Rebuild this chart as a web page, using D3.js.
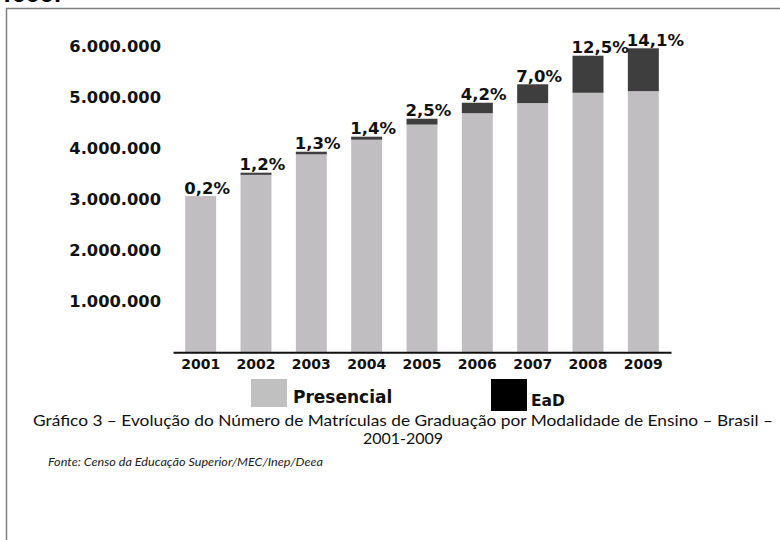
<!DOCTYPE html>
<html lang="pt-BR">
<head>
<meta charset="utf-8">
<script src="https://cdn.jsdelivr.net/npm/d3@7"></script>
<style>
  html, body { margin: 0; padding: 0; background: #ffffff; }
  svg { display: block; }
</style>
</head>
<body>
<svg id="chart" width="780" height="540"></svg>
<script>
// Matrículas de graduação por ano (total) e participação da EaD (%)
const years = ["2001", "2002", "2003", "2004", "2005", "2006", "2007", "2008", "2009"];
const totalEnrollments = [3047000, 3517000, 3928000, 4222000, 4574000, 4887000, 5248000, 5808000, 5953000];
const eadSharePct = [0.2, 1.2, 1.3, 1.4, 2.5, 4.2, 7.0, 12.5, 14.1];
const yTickValues = [1000000, 2000000, 3000000, 4000000, 5000000, 6000000];
const seriesNames = ["Presencial", "EaD"];

const COLORS = { presencial: "#c1bec2", ead: "#3e3e3e", legendPresencial: "#c0c0c0", legendEad: "#000000" };
const BOLD = "'DejaVu Sans', Verdana, sans-serif";
const CAPTION = "Lato, 'Open Sans', sans-serif";

// Split each year's total into presencial and EaD parts from the stated share
const rows = years.map((yr, i) => {
  const total = totalEnrollments[i];
  const ead = total * eadSharePct[i] / 100;
  return { year: yr, total, ead, presencial: total - ead, pct: eadSharePct[i] };
});

const svg = d3.select("#chart");

// Frame around the figure
svg.append("rect")
  .attr("x", 6.5).attr("y", 8.5)
  .attr("width", 800).attr("height", 560)
  .attr("fill", "none").attr("stroke", "#7f7f7f").attr("stroke-width", 1.5);

// Line of the surrounding text, mostly above the frame
svg.append("text")
  .attr("x", -2).attr("y", 2)
  .attr("font-family", BOLD).attr("font-weight", "bold").attr("font-size", 20)
  .attr("fill", "#000").text("4000.");

const x = d3.scaleBand()
  .domain(years)
  .range([173, 671])
  .paddingInner(0.44)
  .paddingOuter(0.22);

const y = d3.scaleLinear()
  .domain([0, 6000000])
  .range([352.3, 45.9]);

const fmt = d3.formatLocale({ decimal: ",", thousands: ".", grouping: [3], currency: ["R$", ""] });
const intFmt = fmt.format(",d");
const pctFmt = v => fmt.format(".1f")(v) + "%";

// Stacked columns: presencial at the bottom, EaD on top
const stack = d3.stack().keys(["presencial", "ead"])(rows);
const stackColors = [COLORS.presencial, COLORS.ead];

svg.append("g").selectAll("g")
  .data(stack)
  .join("g")
  .attr("fill", (d, i) => stackColors[i])
  .selectAll("rect")
  .data(d => d)
  .join("rect")
  .attr("x", d => x(d.data.year))
  .attr("width", x.bandwidth())
  .attr("y", d => y(d[1]))
  .attr("height", d => y(d[0]) - y(d[1]));

// Y axis labels only (no line, no ticks)
const yAxis = svg.append("g")
  .attr("transform", "translate(161,0)")
  .call(d3.axisLeft(y).tickValues(yTickValues).tickFormat(intFmt).tickSize(0).tickPadding(0));
yAxis.select(".domain").remove();
yAxis.selectAll("text")
  .attr("font-family", BOLD).attr("font-weight", "bold").attr("font-size", 16.3)
  .attr("fill", "#111");

// X axis: baseline and year labels
const xAxis = svg.append("g")
  .attr("transform", `translate(0,${y(0)})`)
  .call(d3.axisBottom(x).tickSize(0).tickSizeOuter(0));
xAxis.select(".domain").attr("stroke", "#111").attr("stroke-width", 2);
xAxis.selectAll("text")
  .attr("y", 17).attr("dy", 0)
  .attr("font-family", BOLD).attr("font-weight", "bold").attr("font-size", 14)
  .attr("fill", "#111");

// EaD share above each column
svg.append("g").selectAll("text")
  .data(rows)
  .join("text")
  .attr("x", d => x(d.year) - 1)
  .attr("y", d => y(d.total) - 2.5)
  .attr("text-anchor", "start")
  .attr("font-family", BOLD).attr("font-weight", "bold").attr("font-size", 16.5)
  .attr("fill", "#111")
  .text(d => pctFmt(d.pct));

// Legend
const legendItems = [
  { name: seriesNames[0], color: COLORS.legendPresencial, sx: 251, sy: 379, sw: 36, sh: 28, tx: 293, ty: 403, fs: 17 },
  { name: seriesNames[1], color: COLORS.legendEad, sx: 491, sy: 379, sw: 36, sh: 32, tx: 531, ty: 406, fs: 15.5 }
];
const legend = svg.append("g");
legend.selectAll("rect")
  .data(legendItems)
  .join("rect")
  .attr("x", d => d.sx).attr("y", d => d.sy)
  .attr("width", d => d.sw).attr("height", d => d.sh)
  .attr("fill", d => d.color);
legend.selectAll("text")
  .data(legendItems)
  .join("text")
  .attr("x", d => d.tx).attr("y", d => d.ty)
  .attr("font-family", BOLD).attr("font-weight", "bold").attr("font-size", d => d.fs)
  .attr("fill", "#111")
  .text(d => d.name);

// Caption and source
svg.append("text")
  .attr("x", 33).attr("y", 426)
  .attr("font-family", CAPTION).attr("font-size", 16).attr("fill", "#111")
  .attr("textLength", 740).attr("lengthAdjust", "spacingAndGlyphs")
  .text("Gráfico 3 – Evolução do Número de Matrículas de Graduação por Modalidade de Ensino – Brasil –");
svg.append("text")
  .attr("x", 403).attr("y", 444)
  .attr("text-anchor", "middle")
  .attr("font-family", CAPTION).attr("font-size", 16).attr("fill", "#111")
  .text("2001-2009");
svg.append("text")
  .attr("x", 48).attr("y", 466)
  .attr("font-family", CAPTION).attr("font-style", "italic").attr("font-size", 10.5).attr("fill", "#222")
  .attr("textLength", 275).attr("lengthAdjust", "spacingAndGlyphs")
  .text("Fonte: Censo da Educação Superior/MEC/Inep/Deea");
</script>
</body>
</html>
